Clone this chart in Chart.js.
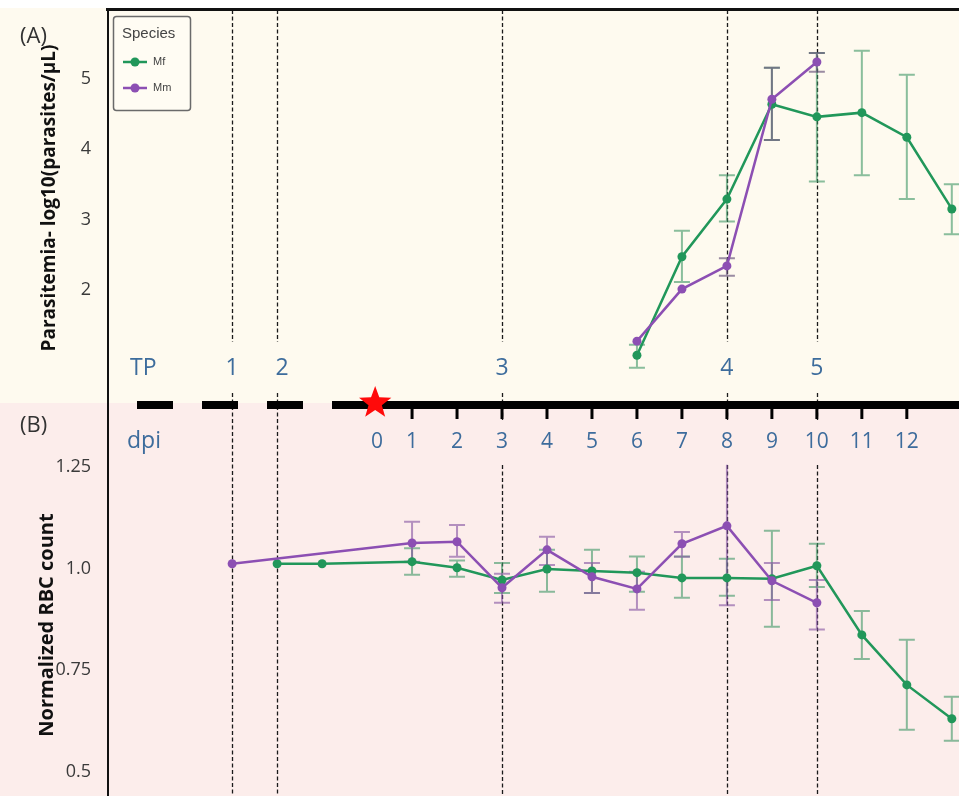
<!DOCTYPE html>
<html>
<head>
<meta charset="utf-8">
<script src="https://cdn.jsdelivr.net/npm/chart.js@4/dist/chart.umd.min.js"></script>
<style>
  html, body { margin: 0; padding: 0; background: #fff; }
  #wrap { width: 959px; height: 796px; }
</style>
</head>
<body>
<div id="wrap"><canvas id="fig" width="959" height="796"></canvas></div>
<script>
(() => {
    'use strict'

    // (A) parasitemia, log10(parasites/uL), by dpi
    const mfDaysA = [6, 7, 8, 9, 10, 11, 12, 13]
    const mfParA = [1.07, 2.47, 3.29, 4.64, 4.46, 4.52, 4.17, 3.15]
    const mfParLoA = [0.89, 2.11, 2.97, 4.13, 3.54, 3.63, 3.29, 2.79]
    const mfParHiA = [1.22, 2.84, 3.63, 5.16, 5.37, 5.40, 5.06, 3.50]

    const mmDaysA = [6, 7, 8, 9, 10]
    const mmParA = [1.27, 2.01, 2.34, 4.71, 5.24]
    const mmParLoA = [null, null, 2.20, 4.13, 5.10]
    const mmParHiA = [null, null, 2.45, 5.16, 5.37]

    // (B) normalized RBC count, by dpi
    const mfDaysB = [-2, -1, 1, 2, 3, 4, 5, 6, 7, 8, 9, 10, 11, 12, 13]
    const mfRbc = [1.012, 1.012, 1.017, 1.002, 0.972, 0.999, 0.994, 0.990, 0.977, 0.977, 0.975, 1.007, 0.837, 0.714, 0.631]
    const mfRbcLo = [null, null, 0.985, 0.980, 0.940, 0.943, 0.940, 0.943, 0.928, 0.933, 0.857, 0.955, 0.778, 0.604, 0.577]
    const mfRbcHi = [null, null, 1.050, 1.020, 1.014, 1.046, 1.046, 1.030, 1.030, 1.024, 1.093, 1.061, 0.896, 0.825, 0.685]

    const mmDaysB = [-3, 1, 2, 3, 4, 5, 6, 7, 8, 9, 10]
    const mmRbc = [1.012, 1.063, 1.066, 0.953, 1.046, 0.980, 0.950, 1.061, 1.105, 0.970, 0.916]
    const mmRbcLo = [null, 1.017, 1.029, 0.916, 1.009, 0.940, 0.899, 1.029, 0.910, 0.923, 0.850]
    const mmRbcHi = [null, 1.115, 1.107, 0.987, 1.078, 1.014, 0.992, 1.090, 1.255, 1.014, 0.972]

    // timepoints and the dpi axis
    const tpDays = [-3, -2, 3, 8, 10]
    const tpLabels = ['1', '2', '3', '4', '5']
    const dpiTicks = [0, 1, 2, 3, 4, 5, 6, 7, 8, 9, 10, 11, 12]

    const parTicks = [2, 3, 4, 5]
    const rbcTicks = [0.5, 0.75, 1.0, 1.25]
    const rbcTickLabels = ['0.5', '0.75', '1.0', '1.25']

    const GREEN = '#21975a'
    const PURPLE = '#8c4fb3'
    const BLUE = '#3d6c9c'

    const xy = (xs, ys) => xs.map((x, i) => ({ x: x, y: ys[i] }))

    const errorBars = [
        { axis: 'yA', xs: mfDaysA, lo: mfParLoA, hi: mfParHiA, color: 'rgba(60,150,100,0.6)' },
        { axis: 'yA', xs: mmDaysA, lo: mmParLoA, hi: mmParHiA, color: 'rgba(100,80,120,0.65)' },
        { axis: 'yB', xs: mfDaysB, lo: mfRbcLo, hi: mfRbcHi, color: 'rgba(60,150,100,0.6)' },
        { axis: 'yB', xs: mmDaysB, lo: mmRbcLo, hi: mmRbcHi, color: 'rgba(130,80,160,0.6)' }
    ]

    const line = (label, xs, ys, axis, color) => ({
        label: label,
        data: xy(xs, ys),
        yAxisID: axis,
        borderColor: color,
        backgroundColor: color,
        borderWidth: 2.5,
        pointRadius: 4.5,
        pointBorderWidth: 0,
        tension: 0
    })

    function star(ctx, cx, cy, ro, ri) {
        ctx.beginPath()
        for (let i = 0; i < 10; i++) {
            const r = i % 2 ? ri : ro
            const a = -Math.PI / 2 + i * Math.PI / 5
            ctx.lineTo(cx + r * Math.cos(a), cy + r * Math.sin(a))
        }
        ctx.closePath()
        ctx.fill()
    }

    const figure = {
        id: 'figure',
        beforeDraw(chart) {
            const { ctx, width, height } = chart
            const split = chart.scales.yA.bottom
            ctx.save()
            ctx.fillStyle = '#ffffff'
            ctx.fillRect(0, 0, width, height)
            ctx.fillStyle = '#fefaef'
            ctx.fillRect(0, 8, width, split - 8)
            ctx.fillStyle = '#fcedeb'
            ctx.fillRect(0, split, width, height - split)
            ctx.restore()
        },
        beforeDatasetsDraw(chart) {
            const { ctx, chartArea } = chart
            const x = chart.scales.x
            ctx.save()
            // timepoint guides
            ctx.strokeStyle = '#1a1a1a'
            ctx.lineWidth = 1.3
            ctx.setLineDash([4, 2.5])
            tpDays.forEach((d, i) => {
                const px = Math.round(x.getPixelForValue(d)) + 0.5
                const segs = i < 2 ? [[chartArea.top, 342], [393, chartArea.bottom]]
                    : [[chartArea.top, 342], [393, 420], [465, chartArea.bottom]]
                segs.forEach(s => {
                    ctx.beginPath()
                    ctx.moveTo(px, s[0])
                    ctx.lineTo(px, s[1])
                    ctx.stroke()
                })
            })
            ctx.setLineDash([])
            // error bars
            ctx.lineWidth = 2
            errorBars.forEach(e => {
                const y = chart.scales[e.axis]
                ctx.strokeStyle = e.color
                e.xs.forEach((d, i) => {
                    if (e.lo[i] == null) return
                    const px = x.getPixelForValue(d)
                    const y0 = y.getPixelForValue(e.lo[i])
                    const y1 = y.getPixelForValue(e.hi[i])
                    ctx.beginPath()
                    ctx.moveTo(px, y0); ctx.lineTo(px, y1)
                    ctx.moveTo(px - 8, y0); ctx.lineTo(px + 8, y0)
                    if (e.hi[i] < 1.25 || e.axis === 'yA') {
                        ctx.moveTo(px - 8, y1); ctx.lineTo(px + 8, y1)
                    }
                    ctx.stroke()
                })
            })
            ctx.restore()
        },
        afterDraw(chart) {
            const { ctx, chartArea, width } = chart
            const x = chart.scales.x
            const tlY = 405
            ctx.save()

            // frame on top
            ctx.fillStyle = '#111'
            ctx.fillRect(chartArea.left - 2, 8, width - chartArea.left + 2, 3)

            // timeline: broken before infection, solid after
            ctx.strokeStyle = '#000'
            ctx.lineWidth = 8
            ctx.setLineDash([36, 29])
            ctx.beginPath()
            ctx.moveTo(137, tlY)
            ctx.lineTo(368, tlY)
            ctx.stroke()
            ctx.setLineDash([])
            ctx.beginPath()
            ctx.moveTo(332, tlY)
            ctx.lineTo(width, tlY)
            ctx.stroke()
            ctx.lineWidth = 3
            dpiTicks.slice(1).forEach(d => {
                const px = x.getPixelForValue(d)
                ctx.beginPath()
                ctx.moveTo(px, tlY)
                ctx.lineTo(px, tlY + 14)
                ctx.stroke()
            })
            ctx.fillStyle = '#ff0a0a'
            star(ctx, x.getPixelForValue(0.18), 403, 17, 7)

            // TP and dpi labels
            ctx.fillStyle = BLUE
            ctx.textBaseline = 'middle'
            ctx.font = '23px "Open Sans"'
            ctx.textAlign = 'left'
            ctx.fillText('TP', 130, 368)
            ctx.fillText('dpi', 127, 441)
            ctx.textAlign = 'center'
            tpDays.forEach((d, i) => {
                ctx.fillText(tpLabels[i], x.getPixelForValue(d) + (i === 1 ? 5 : 0), 368)
            })
            ctx.font = '21px "Open Sans"'
            dpiTicks.forEach(d => {
                ctx.fillText(String(d), x.getPixelForValue(d === 0 ? 0.22 : d), 442)
            })

            // panel letters
            ctx.fillStyle = '#333'
            ctx.textAlign = 'left'
            ctx.font = '22px "Open Sans"'
            ctx.fillText('(A)', 20, 37)
            ctx.fillText('(B)', 20, 426)

            // axis titles
            ctx.fillStyle = '#111'
            ctx.textAlign = 'center'
            ctx.save()
            ctx.translate(50, 198)
            ctx.rotate(-Math.PI / 2)
            ctx.font = 'bold 19px "Open Sans"'
            ctx.fillText('Parasitemia- log10(parasites/\u00b5L)', 0, 0)
            ctx.restore()
            ctx.save()
            ctx.translate(47, 625)
            ctx.rotate(-Math.PI / 2)
            ctx.font = 'bold 20px "Open Sans"'
            ctx.fillText('Normalized RBC count', 0, 0)
            ctx.restore()

            // legend
            ctx.fillStyle = '#fffcf3'
            ctx.strokeStyle = '#6a6a6a'
            ctx.lineWidth = 1.5
            ctx.beginPath()
            ctx.roundRect(113.5, 16.5, 77, 94, 3)
            ctx.fill()
            ctx.stroke()
            ctx.fillStyle = '#444'
            ctx.textAlign = 'left'
            ctx.font = '15px "Liberation Sans"'
            ctx.fillText('Species', 122, 34)
            const keys = [['Mf', GREEN, 62], ['Mm', PURPLE, 88]]
            ctx.font = '11px "Liberation Sans"'
            keys.forEach(k => {
                ctx.strokeStyle = k[1]
                ctx.fillStyle = k[1]
                ctx.lineWidth = 2.5
                ctx.beginPath()
                ctx.moveTo(123, k[2]); ctx.lineTo(147, k[2])
                ctx.stroke()
                ctx.beginPath()
                ctx.arc(135, k[2], 4.5, 0, Math.PI * 2)
                ctx.fill()
                ctx.fillStyle = '#444'
                ctx.fillText(k[0], 153, k[2])
            })
            ctx.restore()
        }
    }

    const tickFont = { family: 'Open Sans', size: 18 }
    const noPad = s => { s.width = 108; s.paddingTop = 0; s.paddingBottom = 0 }

    new Chart(document.getElementById('fig'), {
        type: 'line',
        data: {
            datasets: [
                line('Mm', mmDaysA, mmParA, 'yA', PURPLE),
                line('Mm', mmDaysB, mmRbc, 'yB', PURPLE),
                line('Mf', mfDaysA, mfParA, 'yA', GREEN),
                line('Mf', mfDaysB, mfRbc, 'yB', GREEN)
            ]
        },
        options: {
            responsive: false,
            animation: false,
            devicePixelRatio: 1,
            layout: { autoPadding: false, padding: { top: 10, left: 0, right: 0, bottom: 0 } },
            plugins: {
                legend: { display: false },
                tooltip: { enabled: false }
            },
            scales: {
                x: { type: 'linear', min: -5.76, max: 13.16, display: false },
                yB: {
                    type: 'linear',
                    position: 'left',
                    stack: 'panels',
                    stackWeight: 1,
                    min: 0.441,
                    max: 1.407,
                    grid: { display: false },
                    border: { display: true, color: '#111', width: 2 },
                    afterBuildTicks: s => { s.ticks = rbcTicks.map(v => ({ value: v })) },
                    afterFit: noPad,
                    ticks: {
                        font: tickFont,
                        color: '#3a3a3a',
                        padding: 9,
                        callback: v => rbcTickLabels[rbcTicks.indexOf(v)]
                    }
                },
                yA: {
                    type: 'linear',
                    position: 'left',
                    stack: 'panels',
                    stackWeight: 1,
                    min: 0.39,
                    max: 5.98,
                    grid: { display: false },
                    border: { display: true, color: '#111', width: 2 },
                    afterBuildTicks: s => { s.ticks = parTicks.map(v => ({ value: v })) },
                    afterFit: noPad,
                    ticks: { font: tickFont, color: '#3a3a3a', padding: 9 }
                }
            }
        },
        plugins: [figure]
    })
})()
</script>
</body>
</html>
